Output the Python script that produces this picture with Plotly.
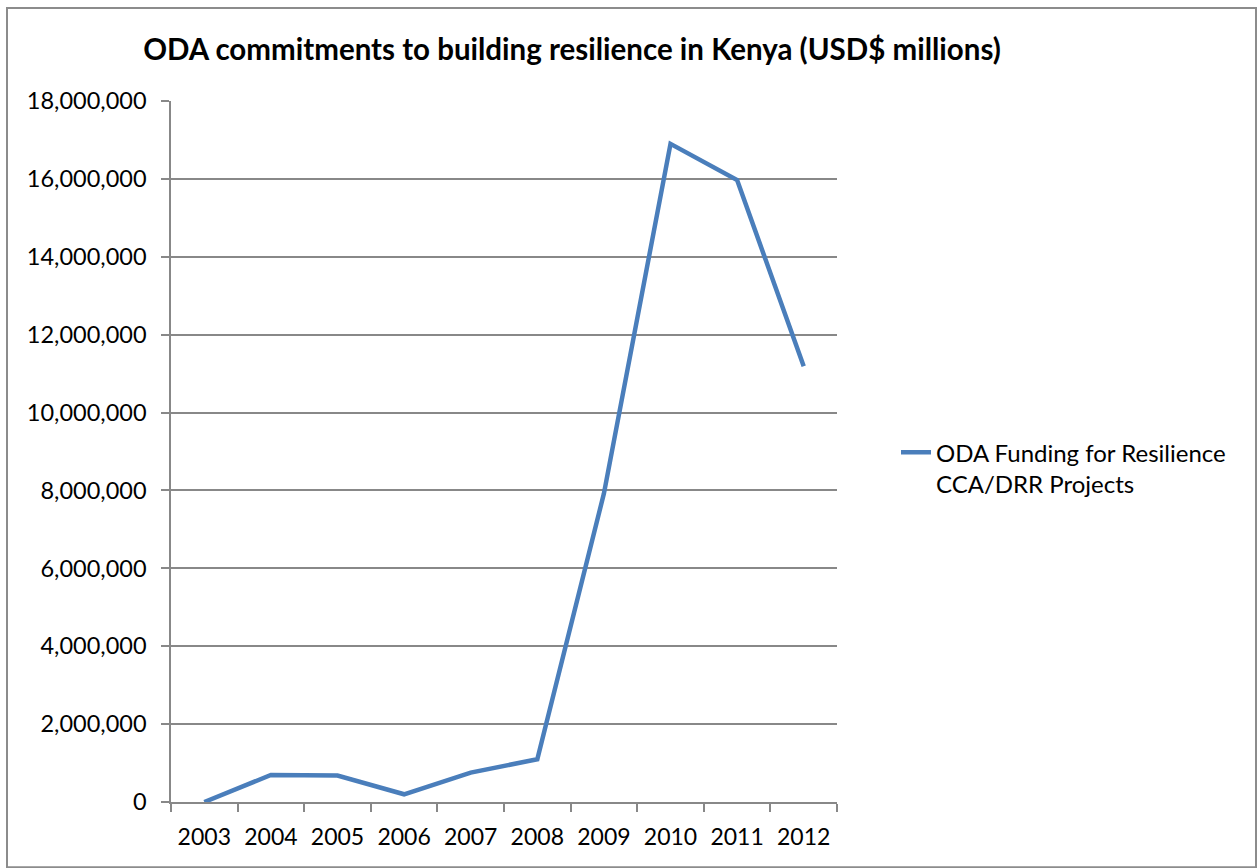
import plotly.graph_objects as go

# Annual ODA commitments (USD) to resilience / CCA / DRR projects in Kenya
years = ["2003", "2004", "2005", "2006", "2007", "2008", "2009", "2010", "2011", "2012"]
funding = [0, 693000, 678000, 198000, 755000, 1097000, 7920000, 16900000, 15970000, 11190000]
y_ticks = [0, 2000000, 4000000, 6000000, 8000000, 10000000, 12000000, 14000000, 16000000, 18000000]

W, H = 1258, 868
L, R, T, B = 171, 837, 101, 801.7

font_family = "Lato, 'Open Sans', 'Liberation Sans', sans-serif"
grid_col = "#888888"

fig = go.Figure()
fig.add_trace(go.Scatter(
    x=years, y=funding, mode="lines",
    name="ODA Funding for Resilience<br>CCA/DRR Projects",
    line=dict(color="#4A7EBB", width=4.5),
))


def px_to_paper_x(px):
    return (px - L) / (R - L)


def px_to_paper_y(py):
    return (B - py) / (B - T)


fig.update_layout(
    width=W, height=H,
    margin=dict(l=L, r=W - R, t=T, b=H - B, pad=0),
    paper_bgcolor="white", plot_bgcolor="white",
    font=dict(family=font_family, color="black", size=23),
    title=dict(
        text="<b>ODA commitments to building resilience in Kenya (USD$ millions)</b>",
        x=px_to_paper_x(572), xref="paper", xanchor="center",
        y=1 - 50 / H, yref="container", yanchor="middle",
        font=dict(size=29.5, family=font_family, color="black"),
    ),
    showlegend=True,
    legend=dict(
        x=px_to_paper_x(896), y=px_to_paper_y(430),
        xanchor="left", yanchor="top", valign="top",
        font=dict(size=24, family=font_family, color="black"),
        bgcolor="rgba(0,0,0,0)", borderwidth=0,
    ),
    xaxis=dict(
        type="category", range=[-0.5, 9.5],
        showgrid=False, showline=True, linecolor=grid_col, linewidth=1.5,
        ticks="outside", ticklen=8, tickcolor=grid_col, tickwidth=1.5,
        tickson="boundaries", zeroline=False, ticklabelstandoff=14,
        tickfont=dict(size=23, family=font_family, color="black"),
    ),
    yaxis=dict(
        range=[0, 18000000], tickvals=y_ticks, tickformat=",d",
        showgrid=True, gridcolor=grid_col, gridwidth=1.5,
        showline=True, linecolor=grid_col, linewidth=1.5,
        ticks="outside", ticklen=8, tickcolor=grid_col, tickwidth=1.5,
        ticklabelstandoff=10, zeroline=False,
        tickfont=dict(size=23.5, family=font_family, color="black"),
    ),
)

# Chart-area frame
fig.add_shape(
    type="rect", xref="paper", yref="paper", layer="below",
    x0=px_to_paper_x(7), x1=px_to_paper_x(1256),
    y0=px_to_paper_y(867), y1=px_to_paper_y(8),
    line=dict(color="#8c8c8c", width=2), fillcolor="rgba(0,0,0,0)",
)

fig.write_html("out.html")
